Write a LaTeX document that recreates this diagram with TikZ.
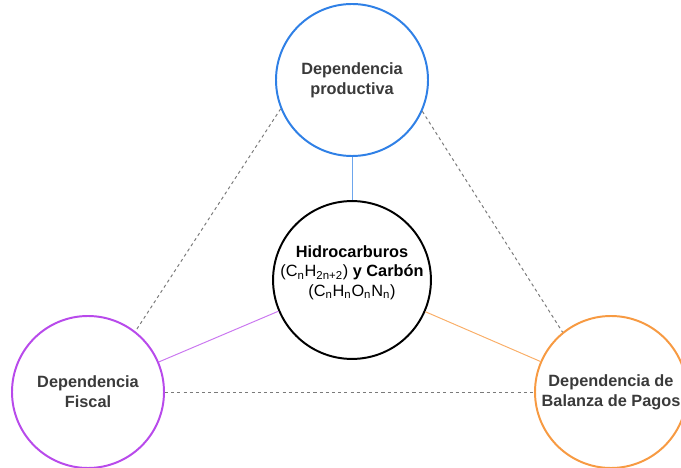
\documentclass[tikz,border=0pt]{standalone}
\usepackage{fontspec}
\setmainfont{Liberation Sans}
\usepackage{tikz}
\usetikzlibrary{positioning}

\definecolor{prodblue}{HTML}{2F80E6}
\definecolor{fiscpurple}{HTML}{B84AEB}
\definecolor{pagorange}{HTML}{F79A42}
\definecolor{labelgray}{HTML}{3A3A3A}
\definecolor{dashgray}{HTML}{7A7A7A}

\begin{document}
\begin{tikzpicture}[every node/.style={font=\fontsize{11.6}{14.2}\selectfont},
  bubble/.style={circle, line width=1.4pt, minimum size=3.8cm, inner sep=0pt, align=center, fill=white},
  outer/.style={bubble, text=labelgray, font=\fontsize{11.6}{14.2}\selectfont\bfseries},
  tie/.style={line width=0.7pt},
  loose/.style={dashgray, line width=0.7pt, dash pattern=on 2.2pt off 2.2pt}]
  \useasboundingbox (0,0) rectangle (17.025,-11.7);
  \node[outer, draw=prodblue] (prod) at (8.8,-2.0) {Dependencia\\productiva};
  \node[bubble, draw=black, text=black, font=\fontsize{11.6}{13.6}\selectfont, text depth=0.45cm] (hidro) at (8.8,-7.0) {\textbf{Hidrocarburos}\\(C\textsubscript{n}H\textsubscript{2n+2}) \textbf{y Carbón}\\(C\textsubscript{n}H\textsubscript{n}O\textsubscript{n}N\textsubscript{n})};
  \node[outer, draw=fiscpurple] (fisc) at (2.2,-9.8) {Dependencia\\Fiscal};
  \node[outer, draw=pagorange] (pagos) at (15.275,-9.8) {Dependencia de\\Balanza de Pagos};
  % solid ties to the centre
  \draw[tie, prodblue!70] (prod) -- (hidro);
  \draw[tie, fiscpurple!75] (hidro) -- (fisc);
  \draw[tie, pagorange!80] (hidro) -- (pagos);
  % dashed triangle
  \draw[loose] (prod.202) -- (fisc.52);
  \draw[loose] (prod.336) -- (pagos.129);
  \draw[loose] (fisc) -- (pagos);
\end{tikzpicture}
\end{document}
